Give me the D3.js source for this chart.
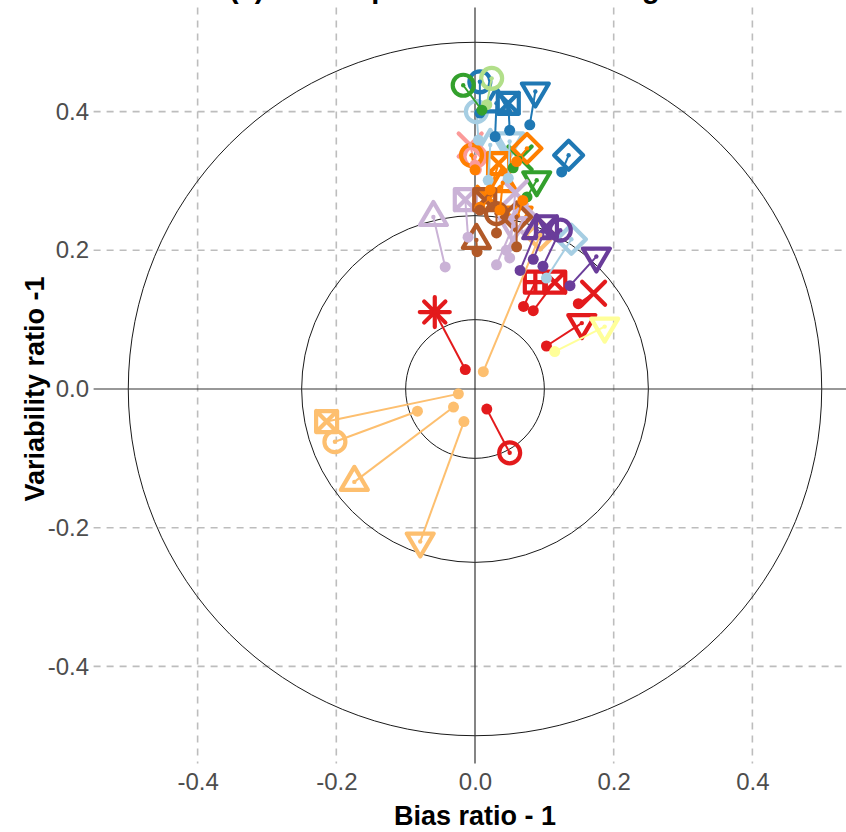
<!DOCTYPE html>
<html>
<head>
<meta charset="utf-8">
<script src="https://cdn.jsdelivr.net/npm/d3@7"></script>
<style>
  body { margin: 0; background: #fff; }
  svg { display: block; font-family: "Liberation Sans", Arial, sans-serif; }
</style>
</head>
<body>
<svg width="846" height="832"></svg>
<script>
// each point: [shape, startX, startY, endX, endY]
const lightBlue = [
  ["diamond", 0.103, 0.160, 0.139, 0.216],
  ["circle", 0.005, 0.359, 0.002, 0.400],
  ["triangle", 0.019, 0.301, 0.022, 0.352],
  ["down", 0.048, 0.304, 0.050, 0.357]
];
const blue = [
  ["circle", 0.007, 0.398, 0.007, 0.443],
  ["sqcross", 0.050, 0.373, 0.048, 0.412],
  ["down", 0.079, 0.381, 0.087, 0.429],
  ["triangle", 0.029, 0.364, 0.031, 0.412],
  ["diamond", 0.125, 0.313, 0.135, 0.337]
];
const lightGreen = [
  ["circle", 0.017, 0.410, 0.024, 0.448]
];
const green = [
  ["circle", 0.010, 0.402, -0.017, 0.438],
  ["down", 0.075, 0.277, 0.089, 0.301],
  ["x", 0.055, 0.319, 0.065, 0.333]
];
const pink = [
  ["x", 0.000, 0.323, -0.007, 0.352],
  ["circle", 0.002, 0.316, 0.000, 0.335]
];
const red = [
  ["asterisk", -0.014, 0.028, -0.058, 0.111],
  ["circle", 0.017, -0.029, 0.050, -0.092],
  ["sqcross", 0.084, 0.113, 0.115, 0.154],
  ["sqplus", 0.070, 0.119, 0.087, 0.154],
  ["x", 0.149, 0.123, 0.171, 0.138],
  ["down", 0.103, 0.062, 0.154, 0.095]
];
const lightOrange = [
  ["sqcross", -0.024, -0.007, -0.214, -0.047],
  ["circle", -0.083, -0.032, -0.202, -0.076],
  ["triangle", -0.031, -0.026, -0.174, -0.134],
  ["down", -0.016, -0.047, -0.079, -0.220],
  ["diamond", 0.012, 0.025, 0.094, 0.222]
];
const orange = [
  ["circle", 0.000, 0.316, -0.005, 0.337],
  ["sqcross", 0.022, 0.287, 0.034, 0.325],
  ["diamond", 0.060, 0.328, 0.075, 0.347],
  ["triangle", 0.036, 0.258, 0.040, 0.297],
  ["x", 0.007, 0.262, 0.020, 0.275],
  ["down", 0.069, 0.272, 0.062, 0.250]
];
const lightPurple = [
  ["sqcross", -0.010, 0.219, -0.014, 0.273],
  ["triangle", -0.043, 0.176, -0.060, 0.248],
  ["x", 0.050, 0.189, 0.058, 0.283],
  ["down", 0.031, 0.179, 0.055, 0.235],
  ["diamond", 0.045, 0.200, 0.070, 0.245]
];
const purple = [
  ["down", 0.137, 0.149, 0.175, 0.191],
  ["sqcross", 0.084, 0.187, 0.103, 0.234],
  ["circle", 0.098, 0.177, 0.123, 0.229],
  ["triangle", 0.065, 0.171, 0.089, 0.229]
];
const yellow = [
  ["down", 0.115, 0.054, 0.187, 0.090]
];
const brown = [
  ["sqcross", 0.007, 0.258, 0.014, 0.273],
  ["triangle", 0.003, 0.198, 0.002, 0.215],
  ["circle", 0.031, 0.225, 0.031, 0.253],
  ["diamond", 0.060, 0.205, 0.060, 0.248]
];

const groups = [lightBlue, blue, lightGreen, green, pink, red, lightOrange, orange, lightPurple, purple, yellow, brown];
const groupColors = ["#a6cee3", "#1f78b4", "#b2df8a", "#33a02c", "#fb9a99", "#e31a1c",
                     "#fdbf6f", "#ff7f00", "#cab2d6", "#6a3d9a", "#ffff99", "#b15928"];
const tickValues = [-0.4, -0.2, 0.0, 0.2, 0.4];
const ringRadii = [0.1, 0.25, 0.5];

const svg = d3.select("svg");
const xScale = d3.scaleLinear().domain([-0.55, 0.55]).range([93.6, 856.4]);
const yScale = d3.scaleLinear().domain([-0.55, 0.55]).range([770.4, 7.6]);
const yBottom = -0.54;

const points = [];
groups.forEach((g, gi) => {
  g.forEach((p) => {
    points.push({ shape: p[0], x0: p[1], y0: p[2], x1: p[3], y1: p[4], color: groupColors[gi] });
  });
});

// title (the figure is cropped, only its lowest part shows)
svg.append("text")
  .attr("x", 229).attr("y", -2.5)
  .style("font-size", "29px").style("font-weight", "bold")
  .text("(a) Air temperature annual range");

// grid
const grid = svg.append("g");
grid.selectAll(".vg").data(tickValues.filter((d) => d !== 0)).enter().append("line")
  .attr("x1", (d) => xScale(d)).attr("x2", (d) => xScale(d))
  .attr("y1", yScale(0.55)).attr("y2", yScale(yBottom))
  .attr("stroke", "#bdbdbd").attr("stroke-width", 1.6).attr("stroke-dasharray", "7,6");
grid.selectAll(".hg").data(tickValues.filter((d) => d !== 0)).enter().append("line")
  .attr("y1", (d) => yScale(d)).attr("y2", (d) => yScale(d))
  .attr("x1", xScale(-0.55)).attr("x2", xScale(0.55))
  .attr("stroke", "#bdbdbd").attr("stroke-width", 1.6).attr("stroke-dasharray", "7,6");

// reference rings
svg.append("g").selectAll("circle").data(ringRadii).enter().append("circle")
  .attr("cx", xScale(0)).attr("cy", yScale(0))
  .attr("r", (d) => xScale(d) - xScale(0))
  .attr("fill", "none").attr("stroke", "#1a1a1a").attr("stroke-width", 1);

// zero lines
svg.append("line")
  .attr("x1", xScale(0)).attr("x2", xScale(0))
  .attr("y1", yScale(0.55)).attr("y2", yScale(yBottom))
  .attr("stroke", "#333").attr("stroke-width", 1.2);
svg.append("line")
  .attr("x1", xScale(-0.55)).attr("x2", xScale(0.55))
  .attr("y1", yScale(0)).attr("y2", yScale(0))
  .attr("stroke", "#333").attr("stroke-width", 1.2);

// axis labels
const fmt = (d) => d.toFixed(1);
const xAxis = d3.axisBottom(xScale).tickValues(tickValues).tickSize(0).tickPadding(0).tickFormat(fmt);
const yAxis = d3.axisLeft(yScale).tickValues(tickValues).tickSize(0).tickPadding(0).tickFormat(fmt);

svg.append("g").attr("transform", "translate(0,770)").call(xAxis)
  .call((g) => g.select(".domain").remove())
  .selectAll("text").attr("dy", "0.72em").attr("y", 3)
  .style("font-size", "24px").style("fill", "#4d4d4d").style("font-family", "Liberation Sans, Arial, sans-serif");

svg.append("g").attr("transform", "translate(89,0)").call(yAxis)
  .call((g) => g.select(".domain").remove())
  .selectAll("text").attr("x", 0)
  .style("font-size", "24px").style("fill", "#4d4d4d").style("font-family", "Liberation Sans, Arial, sans-serif");

svg.append("text")
  .attr("x", 475).attr("y", 825).attr("text-anchor", "middle")
  .style("font-size", "27px").style("font-weight", "bold")
  .text("Bias ratio - 1");

svg.append("text")
  .attr("transform", "translate(44,389) rotate(-90)").attr("text-anchor", "middle")
  .style("font-size", "27px").style("font-weight", "bold")
  .text("Variability ratio -1");

// symbol shapes
const symbolPath = (shape) => {
  const p = d3.path();
  if (shape === "circle") {
    p.moveTo(10.5, 0); p.arc(0, 0, 10.5, 0, Math.PI * 2);
  } else if (shape === "triangle" || shape === "down") {
    const s = shape === "triangle" ? 1 : -1;
    p.moveTo(0, -15 * s); p.lineTo(13.5, 8 * s); p.lineTo(-13.5, 8 * s); p.closePath();
  } else if (shape === "sqcross" || shape === "sqplus") {
    p.rect(-10.5, -10.5, 21, 21);
    if (shape === "sqcross") {
      p.moveTo(-10.5, -10.5); p.lineTo(10.5, 10.5); p.moveTo(10.5, -10.5); p.lineTo(-10.5, 10.5);
    } else {
      p.moveTo(0, -10.5); p.lineTo(0, 10.5); p.moveTo(-10.5, 0); p.lineTo(10.5, 0);
    }
  } else if (shape === "diamond") {
    p.moveTo(0, -14.5); p.lineTo(14.5, 0); p.lineTo(0, 14.5); p.lineTo(-14.5, 0); p.closePath();
  } else if (shape === "x") {
    p.moveTo(-11.5, -11.5); p.lineTo(11.5, 11.5); p.moveTo(11.5, -11.5); p.lineTo(-11.5, 11.5);
  } else if (shape === "asterisk") {
    for (let k = 0; k < 4; k++) {
      const a = (k * Math.PI) / 4;
      p.moveTo(-15 * Math.cos(a), -15 * Math.sin(a));
      p.lineTo(15 * Math.cos(a), 15 * Math.sin(a));
    }
  }
  return p.toString();
};

const marks = svg.append("g");

marks.selectAll(".sym").data(points).enter().append("path")
  .attr("class", "sym")
  .attr("transform", (d) => `translate(${xScale(d.x1)},${yScale(d.y1)})`)
  .attr("d", (d) => symbolPath(d.shape))
  .attr("fill", "none").attr("stroke", (d) => d.color)
  .attr("stroke-width", 4.2).attr("stroke-linejoin", "round").attr("stroke-linecap", "round");

marks.selectAll(".seg").data(points).enter().append("line")
  .attr("class", "seg")
  .attr("x1", (d) => xScale(d.x0)).attr("y1", (d) => yScale(d.y0))
  .attr("x2", (d) => xScale(d.x1)).attr("y2", (d) => yScale(d.y1))
  .attr("stroke", (d) => d.color).attr("stroke-width", 2);

marks.selectAll(".tip").data(points).enter().append("circle")
  .attr("class", "tip")
  .attr("cx", (d) => xScale(d.x1)).attr("cy", (d) => yScale(d.y1))
  .attr("r", 2.2).attr("fill", (d) => d.color);

marks.selectAll(".start").data(points).enter().append("circle")
  .attr("class", "start")
  .attr("cx", (d) => xScale(d.x0)).attr("cy", (d) => yScale(d.y0))
  .attr("r", 5.5).attr("fill", (d) => d.color);
</script>
</body>
</html>
